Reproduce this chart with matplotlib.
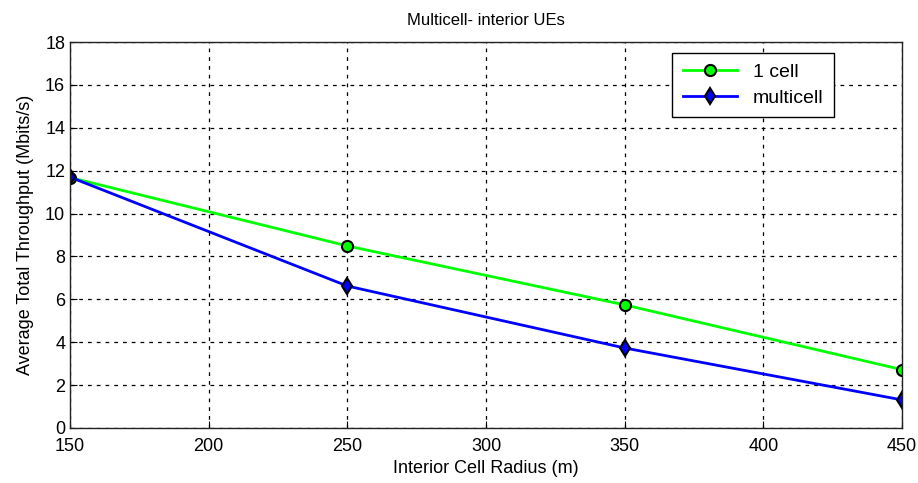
import matplotlib
matplotlib.use('Agg')
import matplotlib.pyplot as plt

radius = [150, 250, 350, 450]
one_cell = [11.68, 8.49, 5.74, 2.72]
multicell = [11.70, 6.62, 3.73, 1.31]

plt.rcParams['font.family'] = ['Liberation Sans', 'DejaVu Sans']

fig = plt.figure(figsize=(9.18, 4.83), dpi=100)
ax = fig.add_axes([0.0763, 0.1139, 0.9063, 0.7991])

ax.plot(radius, one_cell, '-o', color='#00ff00', lw=2, markersize=8,
        markerfacecolor='#00ff00', markeredgecolor='black', markeredgewidth=1.5,
        label='1 cell')
ax.plot(radius, multicell, '-d', color='#0000ff', lw=2, markersize=8,
        markerfacecolor='#0000ff', markeredgecolor='black', markeredgewidth=1.5,
        label='multicell')

ax.set_xlim(150, 450)
ax.set_ylim(0, 18)
ax.set_xticks(range(150, 451, 50))
ax.set_yticks(range(0, 19, 2))
ax.tick_params(direction='in', labelsize=13, length=5)
ax.tick_params(axis='x', pad=7)
ax.grid(True, linestyle=(0, (3, 4)), color='black', lw=0.9)
for s in ax.spines.values():
    s.set_linewidth(1.0)
    s.set_color('#222222')

ax.set_xlabel('Interior Cell Radius (m)', fontsize=13, labelpad=4)
ax.set_ylabel('Average Total Throughput (Mbits/s)', fontsize=13, labelpad=8)
ax.set_title('Multicell- interior UEs', fontsize=12, pad=12)

leg = ax.legend(loc='upper right', bbox_to_anchor=(0.93, 0.997), fontsize=14,
                fancybox=False, framealpha=1, edgecolor='black',
                handlelength=2.8, borderpad=0.55, labelspacing=0.4)
leg.get_frame().set_linewidth(1.0)

plt.savefig('out.png', dpi=100)
plt.close()
